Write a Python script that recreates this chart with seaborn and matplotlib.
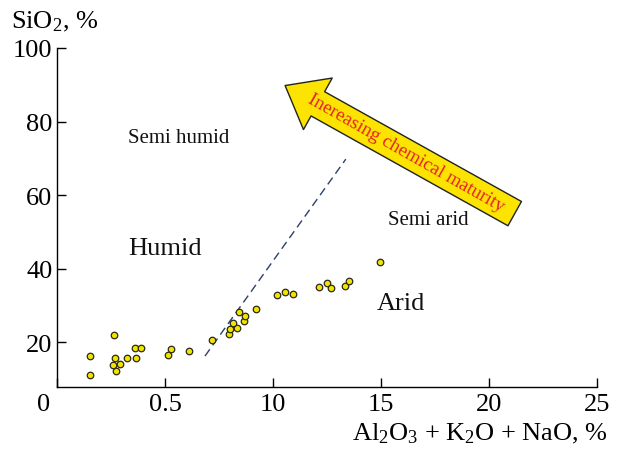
import matplotlib
matplotlib.use("Agg")
import matplotlib.pyplot as plt
import matplotlib.transforms as mtransforms
import seaborn as sns
import pandas as pd

# ---- data ----
oxide_sum = [1.53, 1.53, 2.65, 2.70, 2.58, 2.92, 2.75, 3.23, 3.61, 3.88, 3.64,
             5.13, 5.28, 6.10, 7.16, 7.95, 8.01, 8.33, 8.16, 8.67, 8.72, 8.41,
             9.23, 10.19, 10.57, 10.93, 12.12, 12.50, 12.70, 13.32, 13.50, 14.95]
sio2 = [16.4, 11.1, 22.1, 15.7, 14.0, 14.1, 12.3, 15.7, 18.4, 18.4, 15.7,
        16.6, 18.3, 17.7, 20.8, 22.4, 23.6, 23.9, 25.4, 25.7, 27.2, 28.2,
        29.1, 32.8, 33.6, 33.2, 35.1, 36.1, 34.7, 35.4, 36.7, 41.8]
divider_x = [6.85, 13.37]
divider_y = [16.3, 69.8]
arrow_tip = (10.56, 89.8)
arrow_tail = (21.19, 55.0)
x_ticks = [0, 5, 10, 15, 20, 25]
x_tick_labels = ["0", "0.5", "10", "15", "20", "25"]
y_ticks = [20, 40, 60, 80, 100]
region_labels = [("Semi humid", 3.29, 75.8, 15), ("Humid", 3.29, 45.7, 19),
                 ("Semi arid", 15.32, 53.5, 15), ("Arid", 14.81, 30.7, 19)]

sns.set_theme(style="ticks")
plt.rcParams["font.family"] = ["Liberation Serif", "DejaVu Serif"]
plt.rcParams["mathtext.fontset"] = "custom"
plt.rcParams["mathtext.rm"] = "Liberation Serif"
plt.rcParams["mathtext.it"] = "Liberation Serif:italic"

fig = plt.figure(figsize=(6.19, 4.52), dpi=100)
ax = fig.add_axes([57 / 619, 1 - 388 / 452, 540 / 619, 339 / 452])

df = pd.DataFrame({"x": oxide_sum, "y": sio2})
line_df = pd.DataFrame({"x": divider_x, "y": divider_y})

sns.lineplot(data=line_df, x="x", y="y", ax=ax, color="#2d3f6c", lw=1.0,
             dashes=False, linestyle=(0, (6, 3.5)))
sns.scatterplot(data=df, x="x", y="y", ax=ax, s=22, color="#f2e400",
                edgecolor="#2a2a15", linewidth=0.9, zorder=3)

ax.set_xlim(0, 25)
ax.set_ylim(7.9, 100)
ax.set_xticks(x_ticks)
ax.set_xticklabels(x_tick_labels)
ax.set_yticks(y_ticks)
sns.despine(ax=ax)
for s in ["left", "bottom"]:
    ax.spines[s].set_linewidth(1.0)
    ax.spines[s].set_color("black")
ax.tick_params(direction="in", length=6.5, width=1.0, colors="black",
               labelsize=19)
ax.tick_params(axis="x", pad=4)
ax.tick_params(axis="y", pad=3.4)

# shift the "0" label left of the corner
lbl0 = ax.get_xticklabels()[0]
lbl0.set_transform(lbl0.get_transform() +
                   mtransforms.ScaledTranslation(-0.13, 0, fig.dpi_scale_trans))

ax.set_xlabel(r"Al$_2$O$_3$ + K$_2$O + NaO, %", fontsize=19, color="black")
ax.xaxis.label.set_ha("right")
ax.xaxis.label.set_va("center")
ax.xaxis.set_label_coords(1.02, -0.135)

ax.set_ylabel(r"SiO$_2$, %", fontsize=19, rotation=0, color="black")
ax.yaxis.label.set_ha("center")
ax.yaxis.label.set_va("center")
ax.yaxis.set_label_coords(-0.004, 1.08)

for txt, tx, ty, fs in region_labels:
    ax.text(tx, ty, txt, fontsize=fs, ha="left", va="center", color="#111111")

ax.annotate("", xy=arrow_tip, xytext=arrow_tail,
            arrowprops=dict(arrowstyle="simple,head_length=2.7,head_width=4.25,tail_width=2.0",
                            mutation_scale=10, fc="#fce300", ec="#222222",
                            lw=1.0, shrinkA=0, shrinkB=0))
ax.text(16.18, 71.6, "Inereasing chemical maturity", fontsize=13.8,
        color="#e3222b", rotation=-29.5, rotation_mode="anchor",
        ha="center", va="center")

fig.savefig("out.png", dpi=100)
